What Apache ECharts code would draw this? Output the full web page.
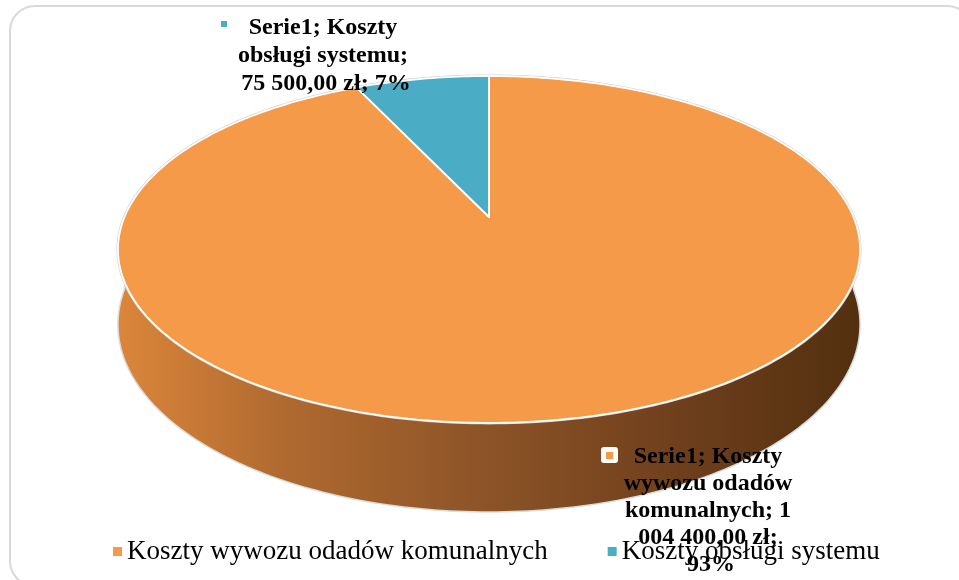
<!DOCTYPE html>
<html><head><meta charset="utf-8">
<script src="https://cdn.jsdelivr.net/npm/echarts@6/dist/echarts.min.js"></script>
<style>html,body{margin:0;padding:0;background:#fff}#c{width:959px;height:580px}</style>
</head><body><div id="c"></div>
<script>
const seriesLabel = 'Serie1';
const categories = ['Koszty wywozu odadów komunalnych', 'Koszty obsługi systemu'];
const values = [1004400, 75500];
const colors = ['#F59A48', '#4BACC6'];

const total = values.reduce((a, b) => a + b, 0);
const starts = [];
{ let acc = 0; values.forEach(v => { starts.push(acc / total * 360); acc += v; }); }

function fmtPLN(v) {
  const s = v.toFixed(2).split('.');
  return s[0].replace(/\B(?=(\d{3})+(?!\d))/g, ' ') + ',' + s[1] + ' zł';
}
function labelText(i) {
  return seriesLabel + '; ' + categories[i] + '; ' + fmtPLN(values[i]) + '; ' + Math.round(values[i] / total * 100) + '%';
}

// perspective ellipse geometry (layout)
const G = { cx: 489, cy: 217, A: 364.5, B: 167.4, P: 0.187, H: 72.4 };
function proj(phiDeg, d) {
  const r = phiDeg * Math.PI / 180;
  const X = Math.sin(r), Z = -Math.cos(r);
  const w = 1 - G.P * Z;
  return [G.cx + G.A * X / w, G.cy + (G.B * Z + d * G.H) / w];
}
function arc(a0, a1, d) {
  const n = Math.max(2, Math.ceil(Math.abs(a1 - a0) / 1));
  const pts = [];
  for (let i = 0; i <= n; i++) pts.push(proj(a0 + (a1 - a0) * i / n, d));
  return pts;
}
const sideGradient = new echarts.graphic.LinearGradient(0, 0, 1, 0, [
  { offset: 0, color: '#DC863A' },
  { offset: 0.22, color: '#B06A30' },
  { offset: 0.5, color: '#8C5327' },
  { offset: 0.78, color: '#6C3D1B' },
  { offset: 1, color: '#52300F' }
]);

function makeRender(i) {
  return function (params, api) {
    const v = api.value(0);
    const a0 = starts[i], a1 = a0 + v / total * 360;
    const children = [];
    const s0 = Math.max(a0, 90), s1 = Math.min(a1, 270);
    if (s1 > s0) {
      children.push({
        type: 'polygon', z2: 1,
        shape: { points: arc(s0, s1, 0).concat(arc(s1, s0, 1)) },
        style: { fill: sideGradient, stroke: '#DADADA', lineWidth: 1.5 }
      });
    }
    if (i === 0) {
      children.push({
        type: 'polygon', z2: 3,
        shape: { points: arc(0, 360, 0) },
        style: { fill: 'none', stroke: '#CFCFCF', lineWidth: 3 }
      });
    }
    children.push({
      type: 'polygon', z2: 10,
      shape: { points: [[G.cx, G.cy]].concat(arc(a0, a1, 0)) },
      style: { fill: colors[i], stroke: '#FFFFFF', lineWidth: 1.8, lineJoin: 'round' }
    });
    return { type: 'group', children: children };
  };
}

const chart = echarts.init(document.getElementById('c'), null, { renderer: 'canvas' });
chart.setOption({
  animation: false,
  color: colors,
  legend: {
    data: categories,
    left: 108, top: 533,
    icon: 'rect', itemWidth: 9, itemHeight: 9, itemGap: 60,
    textStyle: { fontFamily: 'Liberation Serif', fontSize: 27, color: '#000' }
  },
  series: categories.map((name, i) => ({
    type: 'custom', name: name, coordinateSystem: 'none',
    itemStyle: { color: colors[i] },
    renderItem: makeRender(i),
    data: [[values[i]]]
  })),
  graphic: [
    { type: 'rect', z: 0, shape: { x: 10, y: 6, width: 962, height: 580, r: 25 }, style: { fill: 'none', stroke: '#D9D9D9', lineWidth: 2 } },
    { type: 'rect', z: 100, shape: { x: 221, y: 21, width: 6, height: 6 }, style: { fill: colors[1] } },
    { type: 'text', z: 100, style: { text: labelText(1), x: 326, y: 14, width: 202, overflow: 'break', align: 'center', verticalAlign: 'top', font: 'bold 24px "Liberation Serif"', lineHeight: 28, fill: '#000' } },
    { type: 'rect', z: 100, shape: { x: 601, y: 447, width: 17, height: 16, r: 3 }, style: { fill: '#FFFFFF' } },
    { type: 'rect', z: 101, shape: { x: 606, y: 452, width: 7, height: 7 }, style: { fill: colors[0] } },
    { type: 'text', z: 100, style: { text: labelText(0), x: 711, y: 443, width: 196, overflow: 'break', align: 'center', verticalAlign: 'top', font: 'bold 24px "Liberation Serif"', lineHeight: 27, fill: '#000' } }
  ]
});
</script></body></html>
